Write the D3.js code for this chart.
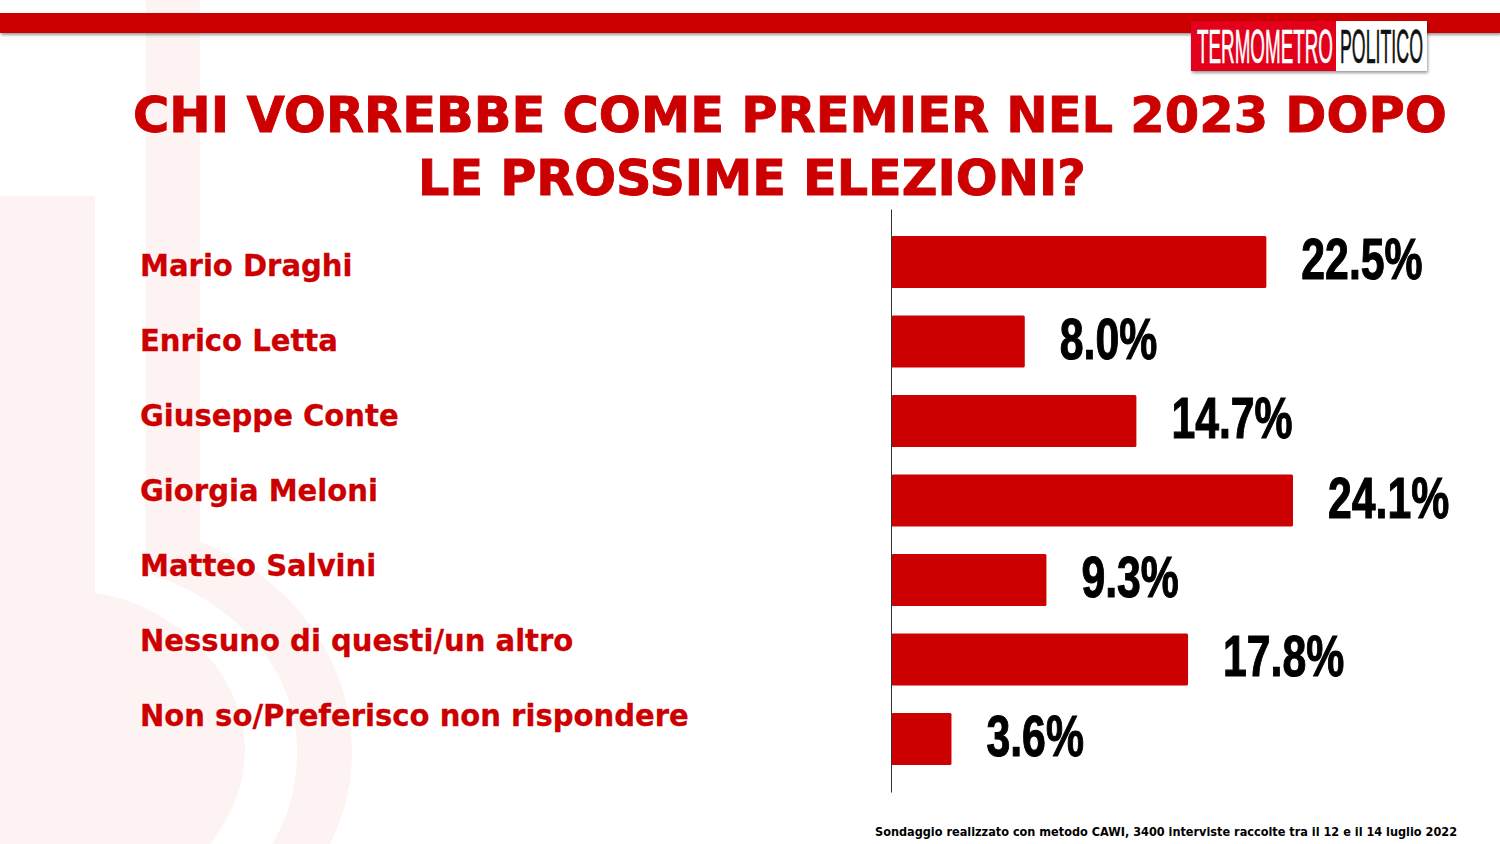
<!DOCTYPE html>
<html>
<head>
<meta charset="utf-8">
<title>Chi vorrebbe come premier</title>
<script src="https://cdn.jsdelivr.net/npm/d3@7"></script>
<style>
	html, body { margin: 0; padding: 0; background: #fff; overflow: hidden; }
	svg { display: block; }
	text { font-family: "DejaVu Sans", sans-serif; font-weight: 700; }
	.title { fill: #cc0000; stroke: #cc0000; stroke-width: 0.9px; font-size: 49px; }
	.name { fill: #cc0000; stroke: #cc0000; stroke-width: 0.3px; font-size: 30px; }
	.value { fill: #000; stroke: #000; stroke-width: 1.1px; font-family: "Liberation Sans Narrow", sans-serif; font-size: 57px; }
	.note { fill: #000; font-size: 11.5px; }
	.logo { font-family: "Liberation Sans Narrow", sans-serif; font-weight: 400; font-size: 49px; stroke-width: 0.7px; }
</style>
</head>
<body>
<svg id="chart" width="1500" height="844"></svg>
<script>
( function () {

	var titleLines = [ 'CHI VORREBBE COME PREMIER NEL 2023 DOPO', 'LE PROSSIME ELEZIONI?' ];
	var candidates = [ 'Mario Draghi', 'Enrico Letta', 'Giuseppe Conte', 'Giorgia Meloni', 'Matteo Salvini', 'Nessuno di questi/un altro', 'Non so/Preferisco non rispondere' ];
	var shares = [ 22.5, 8.0, 14.7, 24.1, 9.3, 17.8, 3.6 ];
	var note = 'Sondaggio realizzato con metodo CAWI, 3400 interviste raccolte tra il 12 e il 14 luglio 2022';

	var red = '#cc0000';
	var svg = d3.select( '#chart' );

	// Squeeze a text sideways so it fills the given width.
	var fit = function ( sel, x, y, width ) {
		var k = width / sel.node().getComputedTextLength();
		sel.attr( 'transform', 'translate( ' + x + ', ' + y + ' ) scale( ' + k + ', 1 )' );
	};

	// Soft shadow for the top band and the logo.
	var defs = svg.append( 'defs' );
	defs.append( 'filter' )
		.attr( 'id', 'shadow' )
		.attr( 'x', '-5%' ).attr( 'y', '-20%' ).attr( 'width', '110%' ).attr( 'height', '150%' )
		.append( 'feDropShadow' )
		.attr( 'dx', 1 ).attr( 'dy', 2 ).attr( 'stdDeviation', 1.5 )
		.attr( 'flood-color', '#000' ).attr( 'flood-opacity', 0.4 );

	// Pale watermark behind everything.
	var mark = svg.append( 'g' ).attr( 'fill', '#fdf3f3' );
	mark.append( 'path' )
		.attr( 'd', 'M0,196 H95 V593 C170,603 245,670 245,750 C245,790 228,820 210,844 H0 Z' );
	mark.append( 'path' )
		.attr( 'd', 'M146,0 H200 V542 C290,575 352,660 352,750 C352,790 342,820 330,844 H272 C290,815 297,785 297,750 C297,670 235,600 146,573 Z' );

	// Top band.
	svg.append( 'rect' )
		.attr( 'x', 0 ).attr( 'y', 13 ).attr( 'width', 1500 ).attr( 'height', 20 )
		.attr( 'fill', red )
		.attr( 'filter', 'url(#shadow)' );

	// Logo.
	var logo = svg.append( 'g' );
	logo.append( 'rect' )
		.attr( 'x', 1191 ).attr( 'y', 21 ).attr( 'width', 236 ).attr( 'height', 50 )
		.attr( 'fill', '#fff' )
		.attr( 'filter', 'url(#shadow)' );
	logo.append( 'rect' )
		.attr( 'x', 1191 ).attr( 'y', 21 ).attr( 'width', 145 ).attr( 'height', 50 )
		.attr( 'fill', '#e2001a' );
	fit( logo.append( 'text' ).attr( 'class', 'logo' ).attr( 'fill', '#fff' ).attr( 'stroke', '#fff' ).text( 'TERMOMETRO' ), 1197, 63, 136 );
	fit( logo.append( 'text' ).attr( 'class', 'logo' ).attr( 'fill', '#111' ).attr( 'stroke', '#111' ).text( 'POLITICO' ), 1340, 63, 83 );

	// Title, two lines set by hand like the original slide.
	fit( svg.append( 'text' ).attr( 'class', 'title' ).text( titleLines[0] ), 133, 132, 1314 );
	fit( svg.append( 'text' ).attr( 'class', 'title' ).text( titleLines[1] ), 418, 195, 668 );

	// Scales.
	var xScale = d3.scaleLinear().domain( [ 0, 24.1 ] ).range( [ 891.5, 1293 ] );
	var yScale = d3.scaleBand().domain( candidates ).range( [ 209, 792 ] ).paddingInner( 0.346 ).paddingOuter( 0.34 );
	var nameScale = d3.scalePoint().domain( candidates ).range( [ 276, 726 ] );

	// Names sit on their own even spacing, not level with the bars.
	var names = svg.selectAll( '.name' )
		.data( candidates )
		.enter()
		.append( 'text' )
		.attr( 'class', 'name' )
		.text( function ( d ) { return d; } );

	// The longest name sets one horizontal squeeze for all of them.
	var squeeze = 549 / d3.max( names.nodes(), function ( n ) { return n.getComputedTextLength(); } );
	names.attr( 'transform', function ( d ) { return 'translate( 140, ' + nameScale( d ) + ' ) scale( ' + squeeze + ', 1 )'; } );

	// Bars.
	svg.selectAll( '.bar' )
		.data( shares )
		.enter()
		.append( 'rect' )
		.attr( 'class', 'bar' )
		.attr( 'x', xScale( 0 ) )
		.attr( 'y', function ( d, i ) { return yScale( candidates[i] ); } )
		.attr( 'width', function ( d ) { return xScale( d ) - xScale( 0 ); } )
		.attr( 'height', yScale.bandwidth() )
		.attr( 'rx', 1.5 )
		.attr( 'fill', red );

	// Vertical axis, line only.
	var yAxis = d3.axisLeft( yScale ).tickSize( 0 ).tickFormat( '' );
	var axis = svg.append( 'g' )
		.attr( 'transform', 'translate( 891, 0 )' )
		.call( yAxis );
	axis.select( '.domain' ).attr( 'stroke', '#333' ).attr( 'stroke-width', 1 );

	// Value labels.
	svg.selectAll( '.value' )
		.data( shares )
		.enter()
		.append( 'text' )
		.attr( 'class', 'value' )
		.attr( 'transform', function ( d, i ) {
			return 'translate( ' + ( xScale( d ) + 35 ) + ', ' + ( yScale( candidates[i] ) + yScale.bandwidth() / 2 + 17 ) + ' ) scale( 0.75, 1 )';
		} )
		.text( function ( d ) { return d.toFixed( 1 ) + '%'; } );

	// Source note.
	fit( svg.append( 'text' ).attr( 'class', 'note' ).text( note ), 875, 836, 583 );

} )();
</script>
</body>
</html>
